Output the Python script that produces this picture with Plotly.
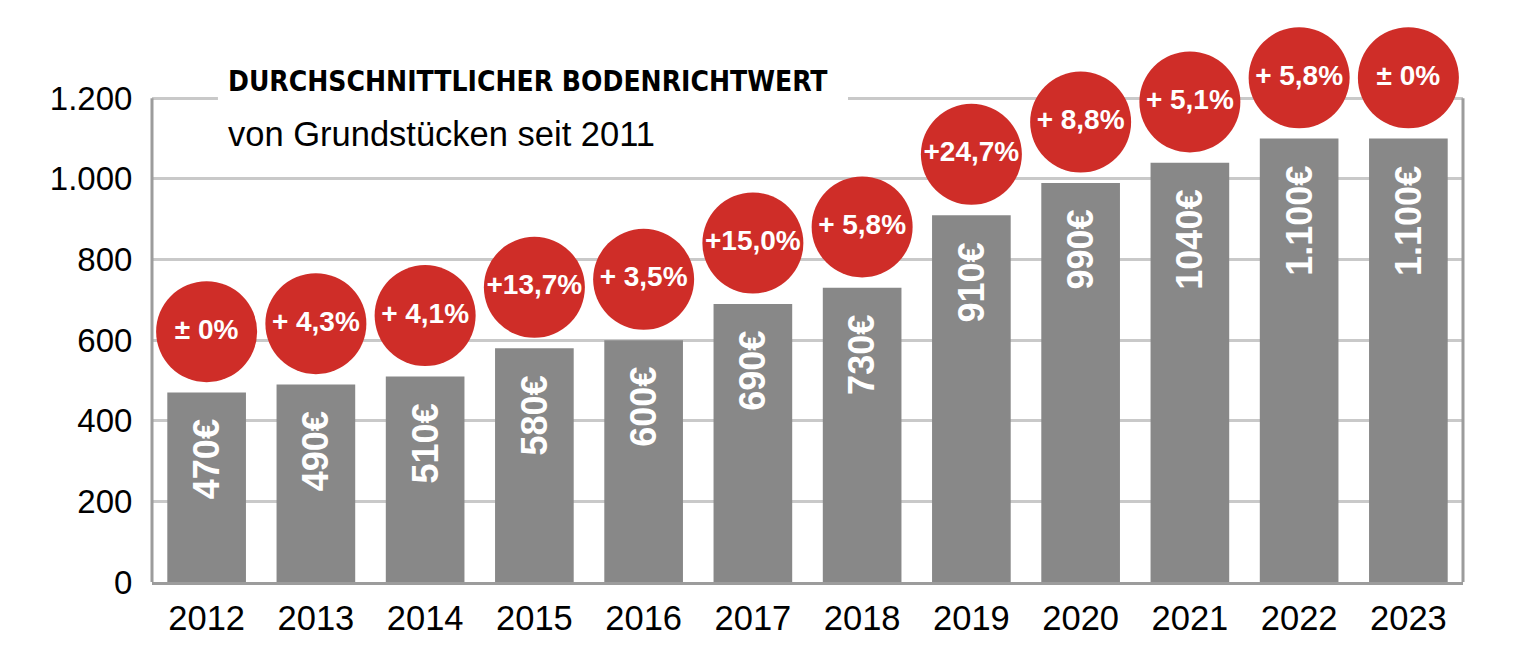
import plotly.graph_objects as go

# ---- data ----
years = ["2012", "2013", "2014", "2015", "2016", "2017",
         "2018", "2019", "2020", "2021", "2022", "2023"]
values = [470, 490, 510, 580, 600, 690, 730, 910, 990, 1040, 1100, 1100]
value_labels = ["470€", "490€", "510€", "580€", "600€", "690€",
                "730€", "910€", "990€", "1040€", "1.100€", "1.100€"]
change_labels = ["± 0%", "+ 4,3%", "+ 4,1%", "+13,7%", "+ 3,5%", "+15,0%",
                 "+ 5,8%", "+24,7%", "+ 8,8%", "+ 5,1%", "+ 5,8%", "± 0%"]
y_ticks = [0, 200, 400, 600, 800, 1000, 1200]
y_tick_labels = ["0", "200", "400", "600", "800", "1.000", "1.200"]
title_text = "DURCHSCHNITTLICHER BODENRICHTWERT"
subtitle_text = "von Grundstücken seit 2011"

# ---- style ----
BAR_COLOR = "#888888"
RED = "#CF2D28"
GRID = "#c9c9c9"
AXIS = "#9c9c9c"
SANS = "Liberation Sans, Arial, Helvetica, sans-serif"
NARROW = "Liberation Sans Narrow, DejaVu Sans Condensed, Arial Narrow, Liberation Sans, sans-serif"
CIRCLE_OFFSET = 151      # circle centre above bar top, in axis units
Y_TOP = 1200             # top of the framed chart
Y_MAX = 1300             # axis range extends a little so the top circles are drawn
TITLE_Y = 1241
SUBTITLE_Y = 1112

circle_y = [v + CIRCLE_OFFSET for v in values]

fig = go.Figure()
fig.add_trace(go.Bar(
    x=years, y=values, marker=dict(color=BAR_COLOR, line=dict(width=0)),
    hoverinfo="skip", showlegend=False,
))
fig.add_trace(go.Scatter(
    x=years, y=circle_y, mode="markers+text",
    marker=dict(size=101, color=RED, line=dict(width=0)),
    text=change_labels, textposition="middle center",
    textfont=dict(family=SANS, size=28, color="white", weight="bold"),
    cliponaxis=False, hoverinfo="skip", showlegend=False,
))

annotations = []
for i, (v, lab) in enumerate(zip(values, value_labels)):
    annotations.append(dict(
        x=i, y=v, xref="x", yref="y", text=lab, textangle=-90,
        xanchor="center", yanchor="top", yshift=-25, showarrow=False,
        font=dict(family=SANS, size=36, color="white", weight="bold"),
    ))

annotations.append(dict(
    x=0.0565, y=TITLE_Y, xref="paper", yref="y", text=title_text,
    xanchor="left", yanchor="middle", showarrow=False,
    font=dict(family=NARROW, size=28, color="black", weight="bold"),
))
annotations.append(dict(
    x=0.0565, y=SUBTITLE_Y, xref="paper", yref="y", text=subtitle_text,
    xanchor="left", yanchor="middle", showarrow=False,
    font=dict(family=SANS, size=34.5, color="black"),
))

frame_top = Y_TOP / Y_MAX
shapes = [
    # white box behind the title, hiding the top grid line there
    dict(type="rect", xref="paper", yref="y",
         x0=0.0503, x1=0.5309, y0=Y_TOP - 15, y1=Y_TOP + 15,
         fillcolor="white", line=dict(width=0), layer="above"),
    # left and right frame lines (up to the 1.200 line)
    dict(type="line", xref="paper", yref="paper", x0=0, x1=0, y0=0, y1=frame_top,
         line=dict(color=AXIS, width=3), layer="above"),
    dict(type="line", xref="paper", yref="paper", x0=1, x1=1, y0=0, y1=frame_top,
         line=dict(color=AXIS, width=3), layer="above"),
]

fig.update_layout(
    width=1531, height=655,
    margin=dict(l=152, r=68, t=58, b=73, pad=0),
    paper_bgcolor="white", plot_bgcolor="white",
    bargap=0.28,
    annotations=annotations,
    shapes=shapes,
    xaxis=dict(
        type="category", range=[-0.5, len(years) - 0.5], automargin=False,
        showgrid=False, zeroline=False,
        showline=True, linecolor=AXIS, linewidth=3, mirror=False,
        ticks="outside", ticklen=4, tickcolor="rgba(0,0,0,0)",
        tickfont=dict(family=SANS, size=34.5, color="black"),
    ),
    yaxis=dict(
        range=[0, Y_MAX], tickvals=y_ticks, ticktext=y_tick_labels, automargin=False,
        showgrid=True, gridcolor=GRID, gridwidth=3, zeroline=False,
        showline=False,
        ticks="outside", ticklen=12, tickcolor="rgba(0,0,0,0)",
        tickfont=dict(family=SANS, size=33, color="black"),
    ),
)

fig.write_html("out.html", config={"displayModeBar": False},
               post_script="document.body.style.margin='0';")
